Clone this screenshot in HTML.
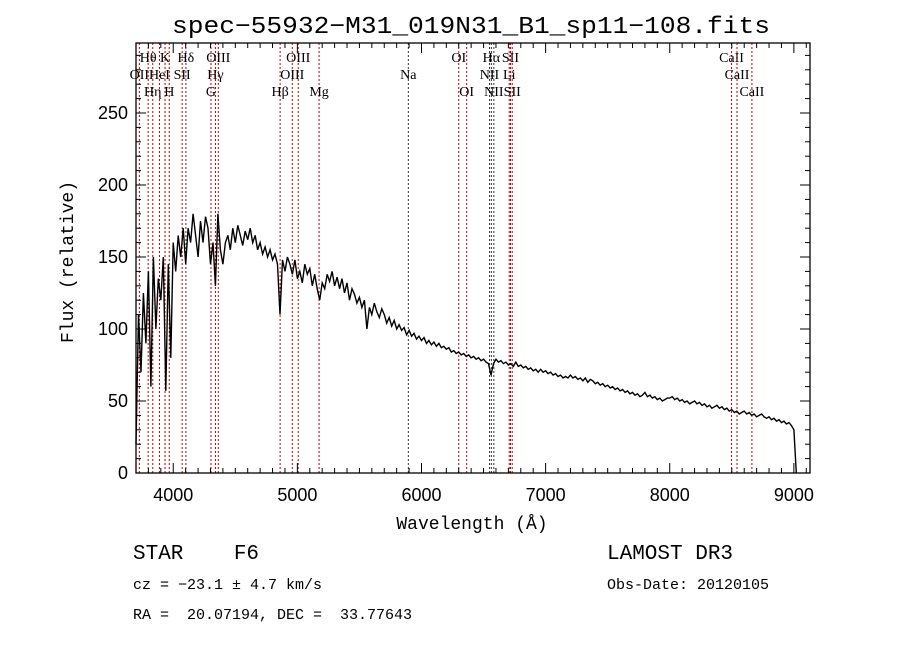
<!DOCTYPE html>
<html><head><meta charset="utf-8"><style>
html,body{margin:0;padding:0;background:#fff;}
svg{display:block;}
text{font-family:"Liberation Sans",sans-serif;fill:#000;white-space:pre;}
.lbl{font-family:"Liberation Serif",serif;font-size:14px;}
.mono{font-family:"Liberation Mono",monospace;}
</style></head><body>
<svg id="chart" width="900" height="649" viewBox="0 0 900 649" xmlns="http://www.w3.org/2000/svg" xml:space="preserve">
<rect x="0" y="0" width="900" height="649" fill="#fff"/>
<text x="172" y="33" textLength="598" lengthAdjust="spacingAndGlyphs" font-size="24" class="mono">spec−55932−M31_019N31_B1_sp11−108.fits</text>
<g id="lines"></g>
<g id="spec"></g>
<g id="axes"></g>
<text x="472" y="529" text-anchor="middle" font-size="18" class="mono">Wavelength (Å)</text>
<text transform="translate(73,262) rotate(-90)" text-anchor="middle" font-size="18" class="mono">Flux (relative)</text>
<text x="133" y="559" font-size="21" class="mono">STAR    F6</text>
<text x="607" y="559" font-size="21" class="mono">LAMOST DR3</text>
<text x="133" y="589" font-size="15" class="mono">cz = −23.1 ± 4.7 km/s</text>
<text x="607" y="589" font-size="15" class="mono">Obs-Date: 20120105</text>
<text x="133" y="619" font-size="15" class="mono">RA =  20.07194, DEC =  33.77643</text>
</svg>
<script>
const xTicks=[4000,5000,6000,7000,8000,9000];
const yTicks=[0,50,100,150,200,250];
const lineWaves=[3727,3798,3835,3889,3934,3968,4072,4102,4304,4340,4363,4861,4959,5007,5175,5894,6300,6364,6548,6563,6583,6707,6717,6731,8498,8542,8662];
const lineNames=["OII","Hθ","Hη","HeI","K","H","SII","Hδ","G","Hγ","OIII","Hβ","OIII","OIII","Mg","Na","OI","OI","NII","Hα","NII","Li","SII","SII","CaII","CaII","CaII"];
const lineRows=[1,0,2,1,0,2,1,0,2,1,0,2,1,0,2,1,0,2,1,0,2,1,0,2,0,1,2];
const lineBlack=[0,0,0,0,0,0,0,1,0,0,0,0,0,0,0,1,0,0,1,1,1,0,0,0,0,0,0];
const waveStart=3700, waveStep=20;
const flux=[20,110,70,125,90,140,60,150,100,135,120,150,57,145,80,
160,140,165,150,170,145,170,160,180,165,150,175,160,178,170,145,160,130,180,155,145,160,165,155,170,160,172,165,158,168,162,170,160,165,155,160,152,157,150,155,148,152,145,110,148,140,150,145,138,148,
135,140,132,145,138,142,130,138,128,120,132,128,138,133,140,130,136,128,135,125,132,120,128,124,118,122,115,120,100,115,110,118,112,108,114,110,104,108,102,106,100,103,99,101,96,99,95,97,93,95,
92,94,90,92,89,91,88,90,87,88,86,87,84,85,83,84,82,83,81,82,80,81,79,80,78,79,77,76,68,76,79,77,78,76,77,75,76,74,77,74,75,73,74,72,73,71,72,70,72,70,
71,69,70,68,69,67,68,66,67,66,68,66,67,65,66,64,66,63,65,64,62,63,61,62,60,61,59,60,58,59,57,58,56,57,55,56,54,55,53,54,56,53,54,52,53,51,52,50,51,52,
52,53,51,52,50,51,49,50,48,49,50,48,49,47,48,46,47,45,46,47,45,46,44,45,43,44,42,43,41,42,43,41,42,40,41,39,40,41,39,38,39,37,38,36,37,35,36,34,35,33,
30,0];
const NS='http://www.w3.org/2000/svg';
const L=136,R=810,T=43,B=473,X0=3700,X1=9130,Y0=0,Y1=298.6;
function sx(w){return L+(w-X0)/(X1-X0)*(R-L);}
function sy(f){return B-(f-Y0)/(Y1-Y0)*(B-T);}
function mk(tag,attrs,parent){const e=document.createElementNS(NS,tag);for(const k in attrs)e.setAttribute(k,attrs[k]);parent.appendChild(e);return e;}
const gl=document.getElementById('lines');
lineWaves.forEach((w,i)=>{
  const x=sx(w);
  const ln=mk('line',{x1:x,x2:x,y1:T,y2:B,stroke:lineBlack[i]?'#333':'#c00000','stroke-width':1,'stroke-dasharray':'2,2'},gl);
  
  
  const t=mk('text',{x:x,y:62+lineRows[i]*17,'text-anchor':'middle',class:'lbl'},gl);
  t.textContent=lineNames[i];
  
  
});
const gs=document.getElementById('spec');
let d='';
flux.forEach((f,i)=>{const w=waveStart+i*waveStep;d+=(i?'L':'M')+sx(w).toFixed(1)+','+sy(f).toFixed(1);});
const p=mk('path',{d:d,fill:'none',stroke:'#000','stroke-width':1.4},gs);


const ga=document.getElementById('axes');
const fr=mk('rect',{x:L,y:T,width:R-L,height:B-T,fill:'none',stroke:'#000','stroke-width':1.3},ga);


for(let w=3700;w<=9100;w+=100){const x=sx(w);const len=(w%1000===0)?10:5;
  mk('line',{x1:x,x2:x,y1:B,y2:B-len,stroke:'#000'},ga);mk('line',{x1:x,x2:x,y1:T,y2:T+len,stroke:'#000'},ga);}
for(let f=0;f<=290;f+=10){const y=sy(f);const len=(f%50===0)?10:5;
  mk('line',{x1:L,x2:L+len,y1:y,y2:y,stroke:'#000'},ga);mk('line',{x1:R,x2:R-len,y1:y,y2:y,stroke:'#000'},ga);}
xTicks.forEach(v=>{const t=mk('text',{x:sx(v),y:B+28,'text-anchor':'middle','font-size':18},ga);t.textContent=v;
  
  });
yTicks.forEach(v=>{const t=mk('text',{x:L-8,y:sy(v)+6,'text-anchor':'end','font-size':18},ga);t.textContent=v;
  
  });
</script>
</body></html>
